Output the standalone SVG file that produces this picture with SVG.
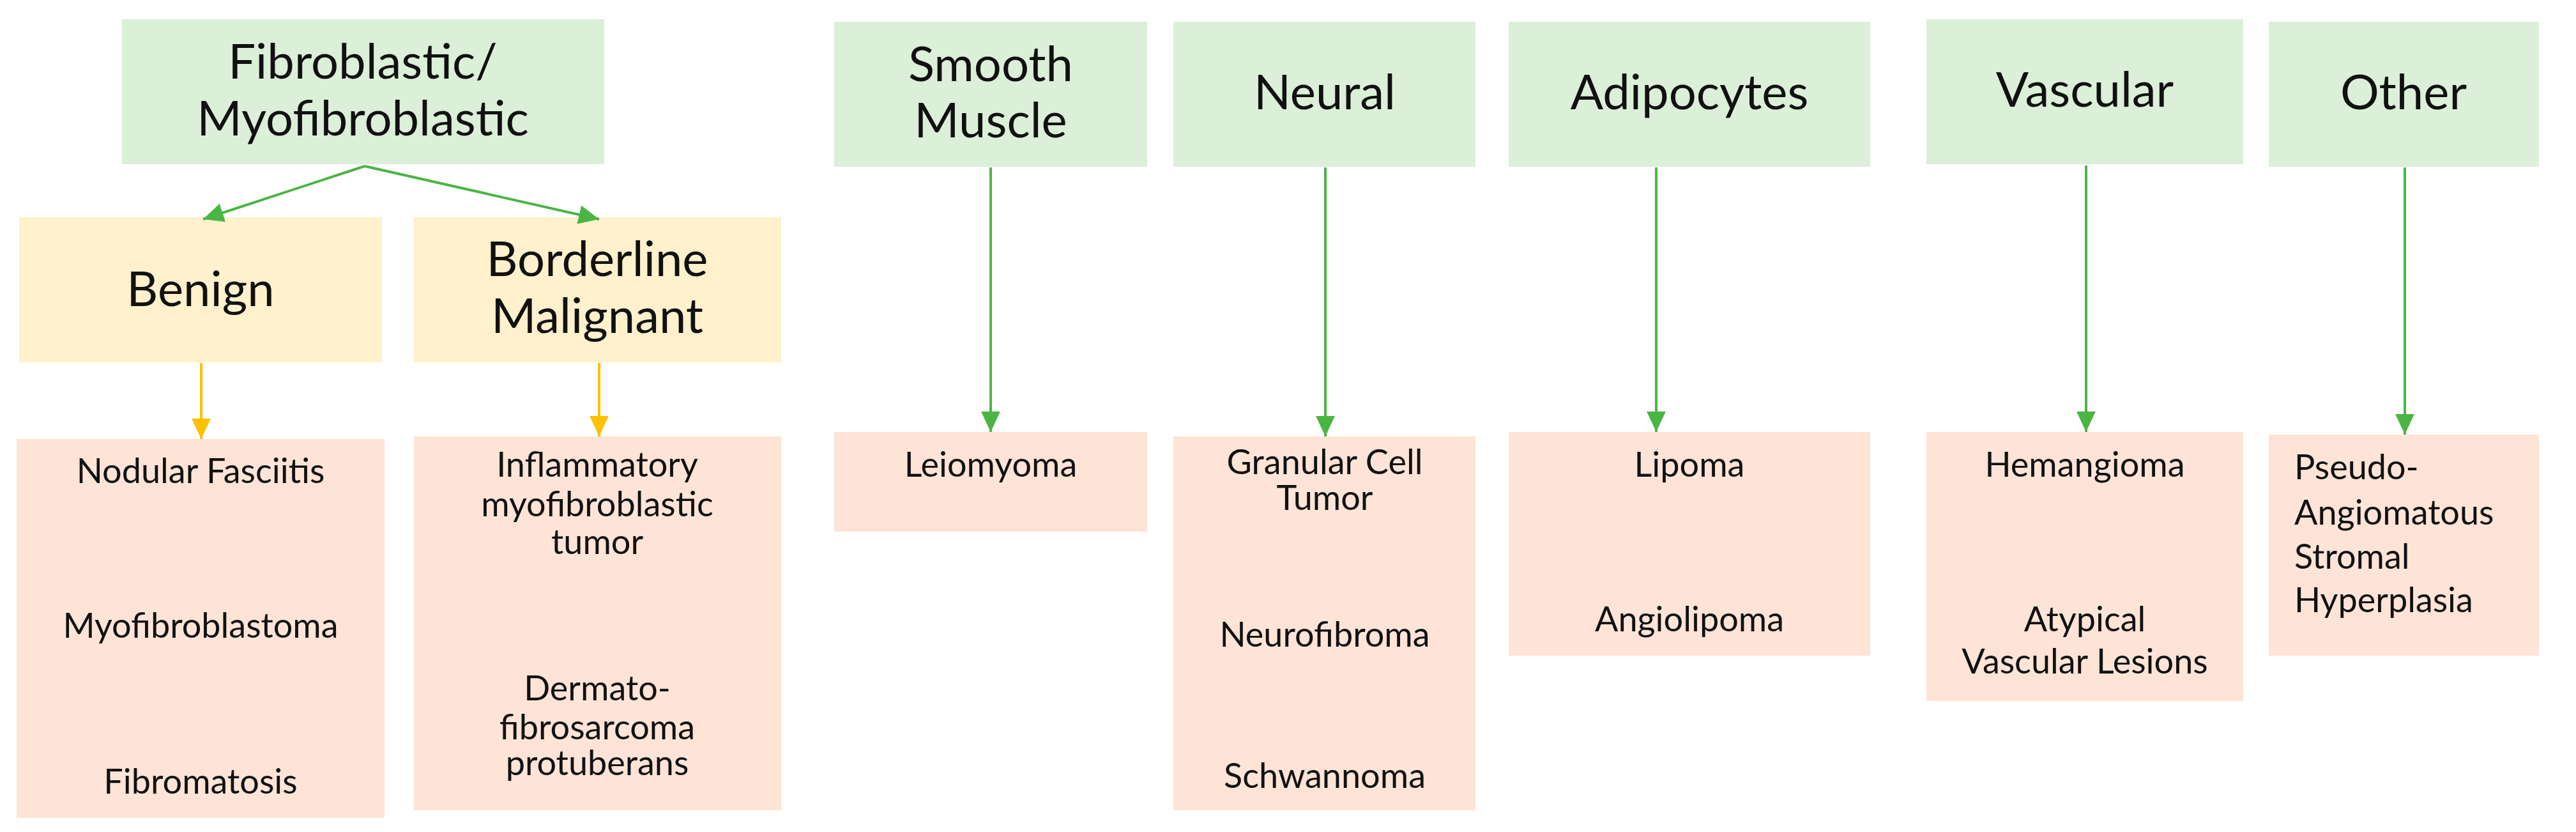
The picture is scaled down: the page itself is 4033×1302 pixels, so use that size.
<svg xmlns="http://www.w3.org/2000/svg" width="4033" height="1302" viewBox="0 0 4033 1302">
<style>
.g{fill:#dcefd9}.y{fill:#fff1cc}.p{fill:#fde4d6}
text{font-family:Lato,"Open Sans",sans-serif;fill:#111;text-anchor:middle}
text.l{text-anchor:start}
.t{font-size:76px}.s{font-size:54px}
.cg{stroke:#4bb543;stroke-width:4;fill:none}.cy{stroke:#ffc000;stroke-width:4;fill:none}
</style>
<defs>
<marker id="ag" markerUnits="userSpaceOnUse" markerWidth="32" markerHeight="32" refX="30" refY="14" orient="auto" viewBox="0 0 30 28"><path d="M0,0L30,14L0,28z" fill="#4bb543"/></marker>
<marker id="ay" markerUnits="userSpaceOnUse" markerWidth="32" markerHeight="32" refX="30" refY="14" orient="auto" viewBox="0 0 30 28"><path d="M0,0L30,14L0,28z" fill="#ffc000"/></marker>
</defs>
<rect width="4033" height="1302" fill="#fff"/>
<g id="fibro"><rect class="g" x="191" y="30" width="755" height="227"/><text class="t" x="568" y="123">Fibroblastic/</text><text class="t" x="568" y="212">Myofibroblastic</text></g>
<g id="benign"><rect class="y" x="30" y="340" width="568" height="227"/><text class="t" x="314" y="479">Benign</text></g>
<g id="borderline"><rect class="y" x="648" y="340" width="575" height="227"/><text class="t" x="935" y="432">Borderline</text><text class="t" x="935" y="521">Malignant</text></g>
<g id="benign-list"><rect class="p" x="26" y="687" width="576" height="593"/><text class="s" x="314" y="756">Nodular Fasciitis</text><text class="s" x="314" y="998">Myofibroblastoma</text><text class="s" x="314" y="1242">Fibromatosis</text></g>
<g id="borderline-list"><rect class="p" x="648" y="683" width="575" height="585"/><text class="s" x="935" y="746">Inflammatory</text><text class="s" x="935" y="808">myofibroblastic</text><text class="s" x="935" y="867">tumor</text><text class="s" x="935" y="1096">Dermato-</text><text class="s" x="935" y="1157">fibrosarcoma</text><text class="s" x="935" y="1213">protuberans</text></g>
<g id="smooth"><rect class="g" x="1306" y="34" width="490" height="227"/><text class="t" x="1551" y="127">Smooth</text><text class="t" x="1551" y="215">Muscle</text></g>
<g id="smooth-list"><rect class="p" x="1306" y="676" width="490" height="156"/><text class="s" x="1551" y="746">Leiomyoma</text></g>
<g id="neural"><rect class="g" x="1837" y="34" width="473" height="227"/><text class="t" x="2074" y="171">Neural</text></g>
<g id="neural-list"><rect class="p" x="1837" y="683" width="473" height="585"/><text class="s" x="2074" y="742">Granular Cell</text><text class="s" x="2074" y="798">Tumor</text><text class="s" x="2074" y="1012">Neurofibroma</text><text class="s" x="2074" y="1233">Schwannoma</text></g>
<g id="adipo"><rect class="g" x="2362" y="34" width="566" height="227"/><text class="t" x="2645" y="171">Adipocytes</text></g>
<g id="adipo-list"><rect class="p" x="2362" y="676" width="566" height="350"/><text class="s" x="2645" y="746">Lipoma</text><text class="s" x="2645" y="988">Angiolipoma</text></g>
<g id="vascular"><rect class="g" x="3016" y="30" width="496" height="227"/><text class="t" x="3264" y="167">Vascular</text></g>
<g id="vascular-list"><rect class="p" x="3016" y="676" width="496" height="421"/><text class="s" x="3264" y="746">Hemangioma</text><text class="s" x="3264" y="988">Atypical</text><text class="s" x="3264" y="1054">Vascular Lesions</text></g>
<g id="other"><rect class="g" x="3552" y="34" width="423" height="227"/><text class="t" x="3763" y="171">Other</text></g>
<g id="other-list"><rect class="p" x="3552" y="680" width="423" height="346"/><text class="s l" x="3592" y="750">Pseudo-</text><text class="s l" x="3592" y="821">Angiomatous</text><text class="s l" x="3592" y="890">Stromal</text><text class="s l" x="3592" y="958">Hyperplasia</text></g>
<g id="connectors">
<path class="cg" d="M571,260L318,343" marker-end="url(#ag)"/>
<path class="cg" d="M571,260L938,343" marker-end="url(#ag)"/>
<path class="cy" d="M315,568V687" marker-end="url(#ay)"/>
<path class="cy" d="M938,568V683" marker-end="url(#ay)"/>
<path class="cg" d="M1551,262V676" marker-end="url(#ag)"/>
<path class="cg" d="M2075,262V683" marker-end="url(#ag)"/>
<path class="cg" d="M2593,262V676" marker-end="url(#ag)"/>
<path class="cg" d="M3266,259V676" marker-end="url(#ag)"/>
<path class="cg" d="M3765,262V680" marker-end="url(#ag)"/>
</g>
</svg>
